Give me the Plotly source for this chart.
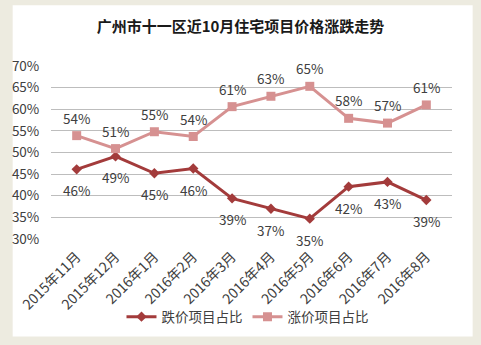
import plotly.graph_objects as go

months = ["2015年11月", "2015年12月", "2016年1月", "2016年2月", "2016年3月",
          "2016年4月", "2016年5月", "2016年6月", "2016年7月", "2016年8月"]
fall_pct = [46.1, 49.1, 45.2, 46.3, 39.4, 37.0, 34.7, 42.1, 43.2, 39.0]
rise_pct = [53.9, 50.9, 54.8, 53.7, 60.6, 63.0, 65.3, 57.9, 56.8, 61.0]
fall_name = "跌价项目占比"
rise_name = "涨价项目占比"
title = "广州市十一区近10月住宅项目价格涨跌走势"
y_ticks = [30, 35, 40, 45, 50, 55, 60, 65, 70]

FONT = "Noto Sans CJK SC"
dark = "#A33B3B"
light = "#D69191"

fig = go.Figure()
fig.add_trace(go.Scatter(x=months, y=fall_pct, name=fall_name, mode="lines+markers",
                         line=dict(color=dark, width=3),
                         marker=dict(symbol="diamond", size=8, color=dark)))
fig.add_trace(go.Scatter(x=months, y=rise_pct, name=rise_name, mode="lines+markers",
                         line=dict(color=light, width=3),
                         marker=dict(symbol="square", size=9, color=light)))

annotations = []
for m, v in zip(months, fall_pct):
    annotations.append(dict(x=m, y=v, text=f"{round(v)}%", showarrow=False,
                            yshift=-21, font=dict(size=13.5, color="#404040", family=FONT)))
for m, v in zip(months, rise_pct):
    annotations.append(dict(x=m, y=v, text=f"{round(v)}%", showarrow=False,
                            yshift=18, font=dict(size=13.5, color="#404040", family=FONT)))

fig.update_layout(
    width=481, height=345,
    paper_bgcolor="#EDEBE0", plot_bgcolor="white",
    margin=dict(l=44, r=29, t=66, b=105),
    font=dict(family=FONT, size=12, color="#404040"),
    title=dict(text=title, x=0.5, xanchor="center", y=(345 - 27) / 345, yref="container",
               yanchor="middle", font=dict(size=15, color="#1a1a1a", family=FONT, weight="bold")),
    showlegend=True,
    legend=dict(orientation="h", x=0.49, xanchor="center", y=-0.45, yanchor="middle",
                font=dict(size=13.5, color="#404040", family=FONT), bgcolor="rgba(0,0,0,0)"),
    shapes=[dict(type="rect", xref="paper", yref="paper",
                 x0=-39 / 408, x1=429 / 408, y0=(7 - 105) / 174, y1=(340 - 105) / 174,
                 fillcolor="white", line=dict(width=0), layer="below")],
    annotations=annotations,
)
fig.update_xaxes(showgrid=False, showline=False, tickangle=-45, ticks="outside", ticklen=3,
                 tickcolor="rgba(0,0,0,0)",
                 tickfont=dict(size=14, color="#404040", family=FONT), zeroline=False)
fig.update_yaxes(range=[30, 70], tickvals=y_ticks, ticktext=[f"{t}%" for t in y_ticks],
                 showgrid=True, gridcolor="#BDBDBD", gridwidth=1, zeroline=False,
                 ticks="outside", ticklen=8, tickcolor="rgba(0,0,0,0)",
                 tickfont=dict(size=13.5, color="#404040", family=FONT))

fig.write_html("out.html")
